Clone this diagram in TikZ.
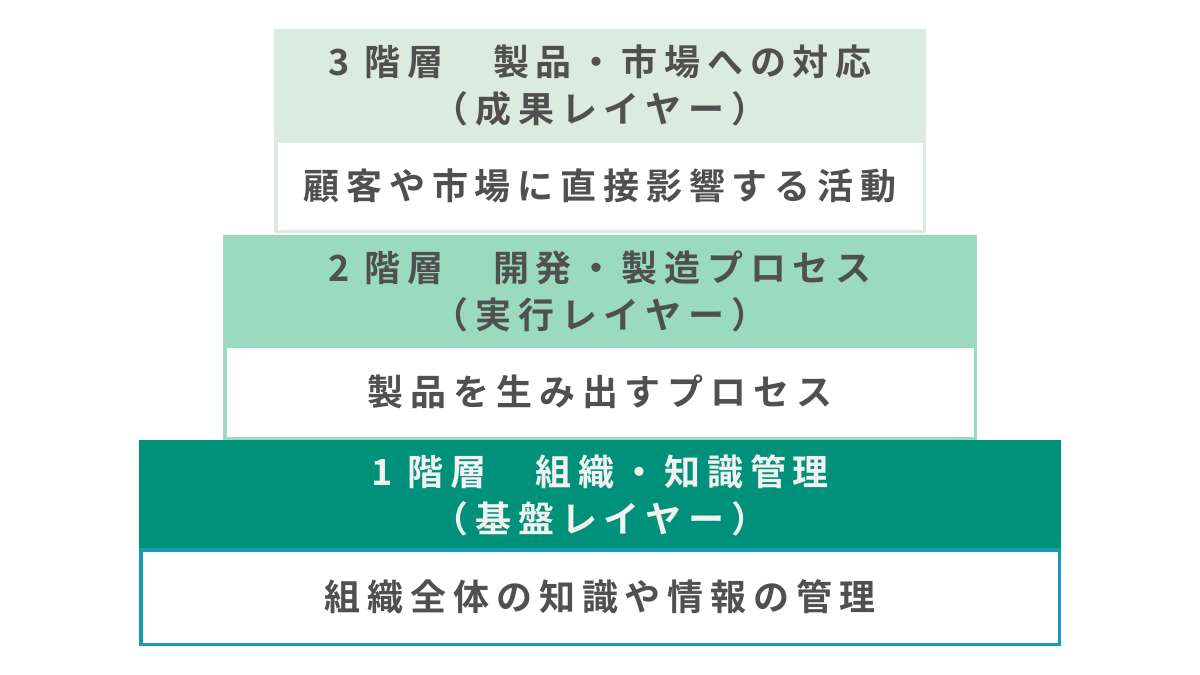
\documentclass[tikz,border=0pt]{standalone}
\usepackage{fontspec}
\usepackage{tikz}
\usetikzlibrary{positioning}
\newfontfamily\jpfont{Noto Sans CJK JP Bold}[LetterSpace=19]
\definecolor{layerA}{RGB}{220,235,223}
\definecolor{layerB}{RGB}{154,219,192}
\definecolor{layerC}{RGB}{0,145,123}
\definecolor{layerCline}{RGB}{20,155,182}
\definecolor{txtgray}{RGB}{80,80,80}
\definecolor{txtwhite}{RGB}{242,242,242}
\tikzstyle{head} = [inner sep=0pt, align=center, text=txtgray, text depth=-10pt, font=\jpfont\fontsize{36}{47}\selectfont]
\tikzstyle{body} = [fill=white, line width=3.5pt, inner sep=0pt, text=txtgray, font=\jpfont\fontsize{36}{47}\selectfont]

\begin{document}
\begin{tikzpicture}[x=1pt,y=-1pt]

\useasboundingbox (0,0) rectangle (1200,675);


%%% %%%
% 3rd layer
%%% %%%


\node[head,fill=layerA,minimum height=110pt,minimum width=652pt] at (600,84) (L3Head) {3 階層　製品・市場への対応\\（成果レイヤー）};

\node[body,draw=layerA,minimum height=90.5pt,minimum width=648.5pt,below=0pt of L3Head] (L3Body) {顧客や市場に直接影響する活動};


%%% %%%
% 2nd layer
%%% %%%


\node[head,fill=layerB,minimum height=109pt,minimum width=754pt] at (600,289.5) (L2Head) {2 階層　開発・製造プロセス\\（実行レイヤー）};

\node[body,draw=layerB,minimum height=92.5pt,minimum width=750.5pt,below=0pt of L2Head] (L2Body) {製品を生み出すプロセス};


%%% %%%
% 1st layer
%%% %%%


\node[head,fill=layerC,text=txtwhite,minimum height=108pt,minimum width=922pt] at (600,494) (L1Head) {1 階層　組織・知識管理\\（基盤レイヤー）};

\node[body,draw=layerCline,minimum height=94.5pt,minimum width=918.5pt,below=0pt of L1Head] (L1Body) {組織全体の知識や情報の管理};


\end{tikzpicture}
\end{document}
